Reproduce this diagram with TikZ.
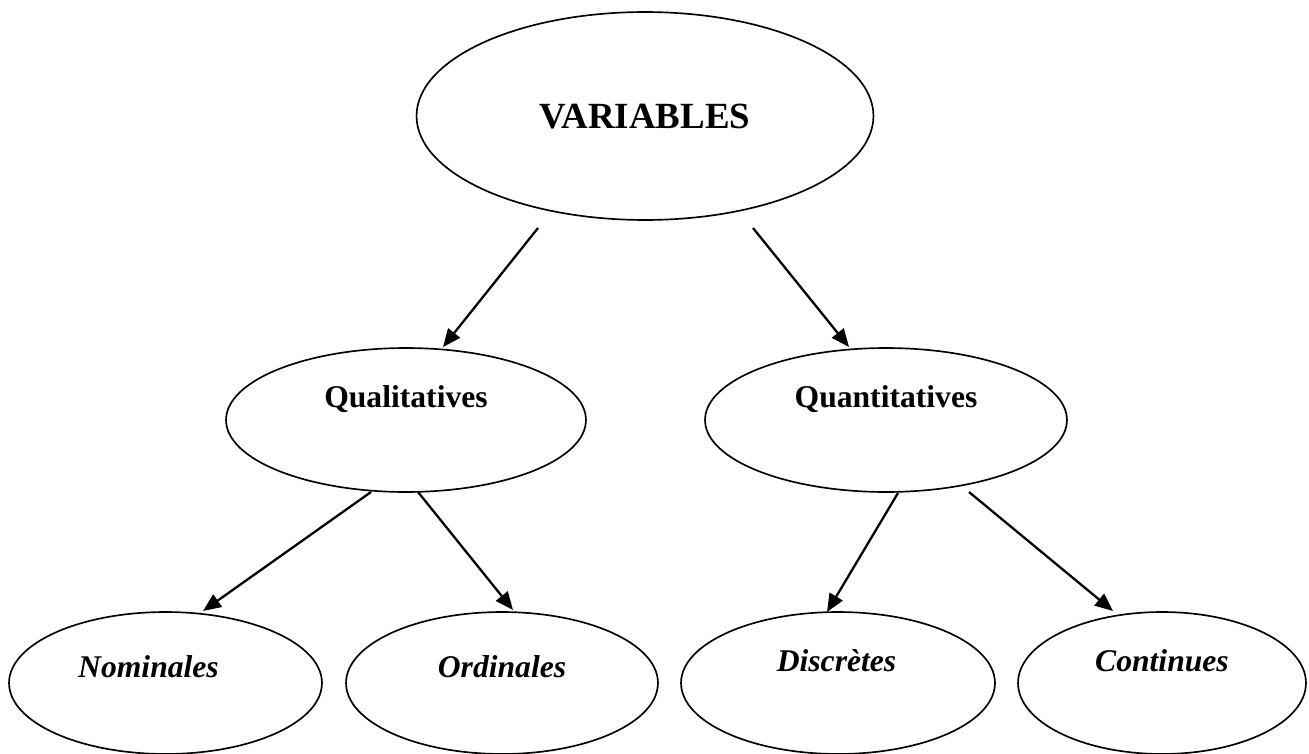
\documentclass[tikz,border=0pt]{standalone}
\usepackage{fontspec}
\setmainfont{Liberation Serif}
\usetikzlibrary{shapes.geometric,arrows.meta}
\tikzset{
  bulle/.style args={#1,#2}{draw,ellipse,line width=0.95pt,minimum width=#1cm,minimum height=#2cm,inner sep=0pt},
  fleche/.style={-{Triangle[length=0.36cm,width=0.3cm]},line width=1.3pt},
  titre/.style={anchor=base,font=\fontsize{18pt}{20pt}\selectfont\bfseries},
  sous/.style={anchor=base,font=\fontsize{18pt}{20pt}\selectfont\bfseries\itshape},
}
\begin{document}
\begin{tikzpicture}[x=0.02cm,y=-0.02cm]
    \useasboundingbox (0,0) rectangle (1309,754);
    % ellipses
    \node[bulle={9.14,4.16}] (var) at (645,116) {};
    \node[bulle={7.2,2.88}] (quali) at (406,420) {};
    \node[bulle={7.24,2.88}] (quanti) at (886,420) {};
    \node[bulle={6.26,2.84}] (nomin) at (165.5,683) {};
    \node[bulle={6.24,2.84}] (ordin) at (502,683) {};
    \node[bulle={6.28,2.84}] (discr) at (838,683) {};
    \node[bulle={5.76,2.84}] (conti) at (1162,683) {};
    % textes
    \node[titre,font=\fontsize{21pt}{24pt}\selectfont\bfseries] (var-t) at ([yshift=-0.24cm]var.center) {VARIABLES};
    \node[titre] (quali-t) at ([yshift=0.26cm]quali.center) {Qualitatives};
    \node[titre] (quanti-t) at ([yshift=0.26cm]quanti.center) {Quantitatives};
    \node[sous] (nomin-t) at ([xshift=-0.34cm,yshift=0.12cm]nomin.center) {Nominales};
    \node[sous] (ordin-t) at ([yshift=0.12cm]ordin.center) {Ordinales};
    \node[sous] (discr-t) at ([xshift=-0.03cm,yshift=0.24cm]discr.center) {Discrètes};
    \node[sous] (conti-t) at ([yshift=0.24cm]conti.center) {Continues};
    % fleches
    \draw[fleche] ([shift={(-107,112)}]var.center) -- ([shift={(37,-73)}]quali.center);
    \draw[fleche] ([shift={(108,112)}]var.center) -- ([shift={(-37,-73)}]quanti.center);
    \draw[fleche] ([shift={(-35,72)}]quali.center) -- ([shift={(37.5,-72)}]nomin.center);
    \draw[fleche] ([shift={(12,72)}]quali.center) -- ([shift={(11,-73)}]ordin.center);
    \draw[fleche] ([shift={(12,73)}]quanti.center) -- ([shift={(-11,-71)}]discr.center);
    \draw[fleche] ([shift={(83,72)}]quanti.center) -- ([shift={(-49,-72)}]conti.center);
\end{tikzpicture}
\end{document}
